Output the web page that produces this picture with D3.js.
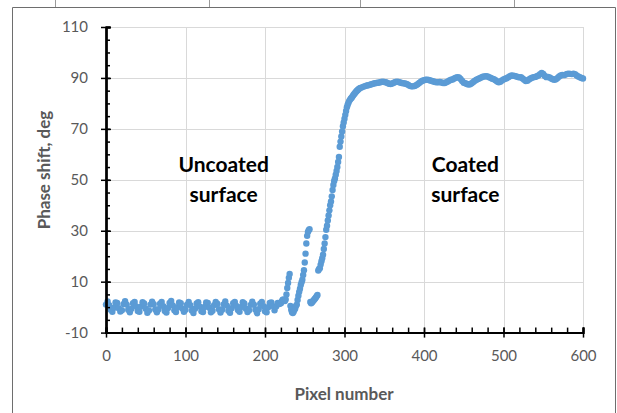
<!DOCTYPE html>
<html>
<head>
<meta charset="utf-8">
<script src="https://cdn.jsdelivr.net/npm/d3@7"></script>
<style>
  html, body { margin: 0; padding: 0; background: #fff; }
  svg { display: block; }
  text { font-family: Lato, "Open Sans", sans-serif; }
</style>
</head>
<body>
<svg id="chart" width="617" height="413"></svg>
<script>
// Phase shift (deg) versus pixel number across the coating edge.
// Uncoated side: pixels 0..218, every 2nd pixel
const uncoatedPhase = [
  1.0, 2.2, 0.8, -1.0, -1.8, -0.2, 1.8, 1.6, -0.4, -1.7,
  -1.2, 1.2, 2.3, 1.0, -1.0, -2.0, -0.6, 1.5, 2.0, 0.3,
  -1.5, -1.8, 0.2, 1.9, 1.4, -0.6, -2.2, -1.3, 1.0, 2.1,
  1.2, -0.9, -2.0, -0.8, 1.3, 2.0, 0.4, -1.5, -2.1, -0.3,
  1.6, 2.4, 0.7, -1.2, -1.9, 0.0, 1.8, 1.5, -0.5, -1.8,
  -1.0, 1.0, 2.0, 0.8, -1.3, -2.3, -0.6, 1.4, 1.9, 0.2,
  -1.6, -1.9, 0.1, 1.8, 1.6, -0.2, -2.0, -1.4, 0.8, 2.0,
  1.3, -0.8, -2.1, -1.0, 1.1, 2.2, 0.6, -1.4, -2.2, -0.4,
  1.5, 2.0, 0.5, -1.1, -1.8, 0.1, 1.9, 1.4, -0.6, -1.9,
  -1.2, 0.9, 2.1, 1.0, -1.0, -2.4, -0.8, 1.3, 2.0, 0.4,
  -1.6, -2.0, 0.0, 1.6, 1.8, 0.4, -1.2, 0.2, 1.6, 1.2
];
const uncoatedStart = 0, uncoatedStep = 2;

// Edge transition: pixels 220..320, every pixel
const edgePhase = [
  1.5, 2.2, 2.8, 3.0, 2.6, 2.4, 3.0, 5.0, 7.5, 9.5,
  11.5, 13.0, 0.5, -1.0, -2.0, -2.3, -1.8, -1.0, -0.5, 0.5,
  1.0, 2.8, 4.5, 6.0, 7.2, 8.7, 9.8, 10.8, 12.6, 14.5,
  17.5, 21.0, 25.0, 28.0, 29.5, 30.2, 30.6, 2.0, 1.5, 1.8,
  2.2, 2.6, 3.0, 3.4, 3.8, 4.3, 4.8, 14.4, 15.0, 15.3,
  16.7, 18.0, 19.2, 20.6, 22.8, 25.0, 27.5, 30.4, 32.0, 34.0,
  36.0, 38.0, 40.0, 41.5, 43.5, 46.0, 48.0, 49.5, 50.5, 52.0,
  53.5, 55.0, 57.0, 59.0, 63.0, 65.0, 67.0, 69.0, 71.0, 72.5,
  74.0, 75.5, 77.0, 78.5, 79.5, 80.3, 81.0, 81.5, 81.9, 82.2,
  82.7, 83.2, 83.6, 84.0, 84.4, 84.8, 85.1, 85.4, 85.7, 85.9,
  86.1
];
const edgeStart = 220, edgeStep = 1;

// Coated side: pixels 322..600, every 2nd pixel
const coatedPhase = [
  86.3, 86.6, 86.8, 87.0, 87.1, 87.3, 87.5, 87.7, 87.9, 88.0,
  88.1, 88.2, 88.4, 88.5, 88.4, 88.3, 88.0, 87.7, 87.6, 87.8,
  88.1, 88.4, 88.5, 88.4, 88.2, 88.0, 87.9, 87.8, 87.6, 87.3,
  86.9, 86.7, 86.7, 86.8, 87.1, 87.5, 88.0, 88.5, 88.9, 89.1,
  89.3, 89.3, 89.2, 89.0, 88.8, 88.6, 88.4, 88.3, 88.3, 88.4,
  88.2, 88.0, 88.0, 88.3, 88.6, 89.0, 89.3, 89.4, 89.8, 90.1,
  90.3, 90.2, 89.6, 88.8, 88.1, 87.9, 87.6, 87.4, 87.5, 87.9,
  88.4, 88.9, 89.3, 89.6, 89.9, 90.2, 90.5, 90.6, 90.7, 90.6,
  90.3, 90.0, 89.7, 89.5, 89.1, 88.6, 88.3, 88.5, 89.0, 89.4,
  89.7, 89.9, 90.3, 90.7, 91.0, 90.9, 90.8, 90.6, 90.4, 90.2,
  90.3, 89.8, 89.3, 88.8, 88.9, 89.4, 89.8, 90.1, 90.3, 90.4,
  90.7, 91.0, 91.5, 92.0, 91.6, 90.8, 90.3, 90.4, 90.2, 89.8,
  89.5, 89.3, 89.5, 90.0, 90.6, 91.0, 91.2, 91.1, 91.3, 91.6,
  91.7, 91.6, 91.5, 91.7, 91.5, 91.0, 90.6, 90.3, 90.0, 89.8
];
const coatedStart = 322, coatedStep = 2;

const xTicks = [0, 100, 200, 300, 400, 500, 600];
const yTicks = [-10, 10, 30, 50, 70, 90, 110];
const xMinorTicks = d3.range(0, 601, 20);
const yMinorTicks = d3.range(-10, 111, 5);

const xTitle = "Pixel number";
const yTitle = "Phase shift, deg";
const regionLabels = [
  { lines: ["Uncoated", "surface"], x: 148 },
  { lines: ["Coated", "surface"], x: 452 }
];

// Assemble (pixel, phase) points from the three runs
function toPoints(values, start, step) {
  return values.map((v, i) => ({ px: start + i * step, phase: v }));
}
const points = [].concat(
  toPoints(uncoatedPhase, uncoatedStart, uncoatedStep),
  toPoints(edgePhase, edgeStart, edgeStep),
  toPoints(coatedPhase, coatedStart, coatedStep)
);

const svg = d3.select("#chart");
const x = d3.scaleLinear().domain([0, 600]).range([106, 583]);
const y = d3.scaleLinear().domain([-10, 110]).range([332.6, 27]);

// Outer chart frame and sheet lines above it
const frame = svg.append("g").attr("stroke", "#6e6e6e").attr("fill", "none");
frame.append("line").attr("x1", 12.5).attr("x2", 12.5).attr("y1", 7.5).attr("y2", 413);
frame.append("line").attr("x1", 12.5).attr("x2", 615.5).attr("y1", 7.5).attr("y2", 7.5);
frame.append("line").attr("x1", 615.5).attr("x2", 615.5).attr("y1", 7.5).attr("y2", 413);
[55, 209, 360, 514].forEach(cx => {
  frame.append("line").attr("x1", cx + 0.5).attr("x2", cx + 0.5).attr("y1", 0).attr("y2", 7).attr("stroke", "#9a9a9a");
});

// Gridlines
const grid = svg.append("g").attr("stroke", "#d9d9d9").attr("stroke-width", 1);
grid.selectAll("line.h").data(yTicks.filter(v => v > -10)).join("line")
  .attr("x1", x(0)).attr("x2", x(600))
  .attr("y1", d => Math.round(y(d)) + 0.5).attr("y2", d => Math.round(y(d)) + 0.5);
grid.selectAll("line.v").data(xTicks.filter(v => v > 0)).join("line")
  .attr("y1", y(-10)).attr("y2", y(110))
  .attr("x1", d => Math.round(x(d)) + 0.5).attr("x2", d => Math.round(x(d)) + 0.5);

// Data points
svg.append("g").selectAll("circle").data(points).join("circle")
  .attr("cx", d => x(d.px))
  .attr("cy", d => y(d.phase))
  .attr("r", 3.2)
  .attr("fill", "#5b9bd5");

// Axes
function styleAxis(g, showText) {
  g.select(".domain").attr("stroke", "#000").attr("stroke-width", 2);
  g.selectAll(".tick line").attr("stroke", "#000").attr("stroke-width", 1.5);
  g.selectAll(".tick text")
    .attr("fill", "#595959")
    .style("font-size", "15px")
    .style("display", showText ? null : "none");
}
const plainNumber = d => String(d);

const yAxisG = svg.append("g").attr("transform", `translate(${x(0)},0)`);
yAxisG.append("g").call(d3.axisLeft(y).tickValues(yMinorTicks).tickSize(-4).tickFormat(""))
  .call(g => styleAxis(g, false));
yAxisG.append("g").call(d3.axisLeft(y).tickValues(yTicks).tickSize(-5).tickFormat(""))
  .call(g => styleAxis(g, false));
yAxisG.append("g").call(d3.axisLeft(y).tickValues(yTicks).tickSize(5).tickSizeOuter(0).tickPadding(13).tickFormat(plainNumber))
  .call(g => styleAxis(g, true));

const xAxisG = svg.append("g").attr("transform", `translate(0,${y(-10)})`);
xAxisG.append("g").call(d3.axisBottom(x).tickValues(xMinorTicks).tickSize(-5).tickFormat(""))
  .call(g => styleAxis(g, false));
xAxisG.append("g").call(d3.axisBottom(x).tickValues(xTicks).tickSize(-5).tickFormat(""))
  .call(g => styleAxis(g, false));
xAxisG.append("g").call(d3.axisBottom(x).tickValues(xTicks).tickSize(5).tickSizeOuter(0).tickPadding(13).tickFormat(plainNumber))
  .call(g => styleAxis(g, true));

// Axis titles
svg.append("text")
  .attr("x", 344).attr("y", 400)
  .attr("text-anchor", "middle")
  .attr("fill", "#595959")
  .style("font-size", "17px").style("font-weight", "bold")
  .text(xTitle);

svg.append("text")
  .attr("transform", "translate(50,170) rotate(-90)")
  .attr("text-anchor", "middle")
  .attr("fill", "#595959")
  .style("font-size", "17px").style("font-weight", "bold")
  .text(yTitle);

// Region labels
regionLabels.forEach(lab => {
  const t = svg.append("text")
    .attr("text-anchor", "middle")
    .attr("fill", "#000")
    .style("font-size", "21px").style("font-weight", "bold");
  lab.lines.forEach((line, i) => {
    t.append("tspan").attr("x", x(lab.x)).attr("y", y(53) + i * 29.5).text(line);
  });
});
</script>
</body>
</html>
